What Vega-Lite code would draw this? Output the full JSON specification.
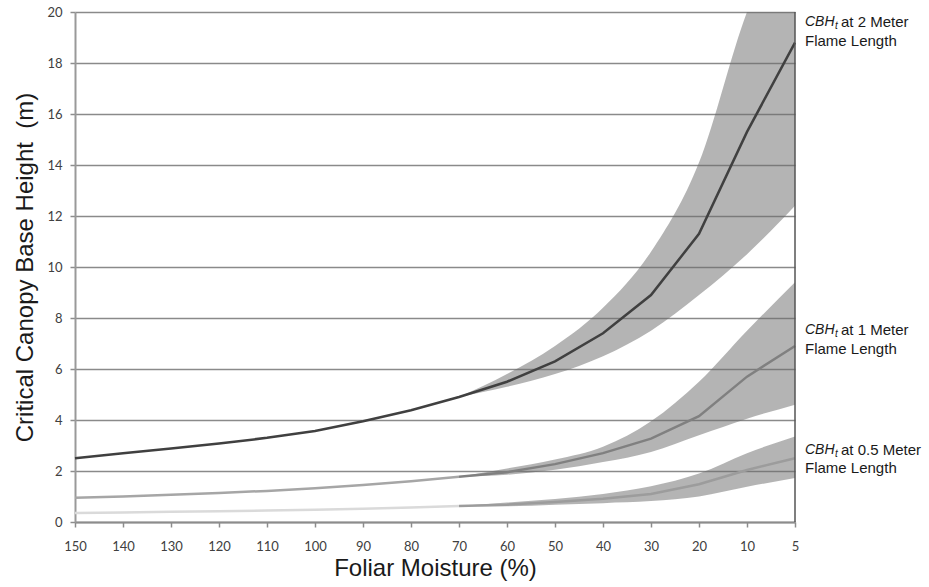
{
  "$schema": "https://vega.github.io/schema/vega-lite/v6.json",
  "autosize": "none",
  "width": 720,
  "height": 510,
  "padding": {"left": 75, "top": 12, "right": 134, "bottom": 65},
  "background": "white",
  "config": {"view": {"stroke": null}},
  "datasets": {
    "lines": [
      {"x":150,"part":"2m","y":2.5},{"x":140,"part":"2m","y":2.7},{"x":130,"part":"2m","y":2.88},{"x":120,"part":"2m","y":3.08},{"x":110,"part":"2m","y":3.3},{"x":100,"part":"2m","y":3.57},{"x":90,"part":"2m","y":3.95},{"x":80,"part":"2m","y":4.38},{"x":70,"part":"2m","y":4.9},{"x":60,"part":"2m","y":5.5},{"x":50,"part":"2m","y":6.3},{"x":40,"part":"2m","y":7.4},{"x":30,"part":"2m","y":8.9},{"x":20,"part":"2m","y":11.3},{"x":10,"part":"2m","y":15.3},{"x":5,"part":"2m","y":18.8},
      {"x":150,"part":"1m_a","y":0.95},{"x":140,"part":"1m_a","y":1.0},{"x":130,"part":"1m_a","y":1.07},{"x":120,"part":"1m_a","y":1.14},{"x":110,"part":"1m_a","y":1.22},{"x":100,"part":"1m_a","y":1.32},{"x":90,"part":"1m_a","y":1.45},{"x":80,"part":"1m_a","y":1.6},{"x":70,"part":"1m_a","y":1.77},
      {"x":70,"part":"1m_b","y":1.77},{"x":60,"part":"1m_b","y":1.95},{"x":50,"part":"1m_b","y":2.27},{"x":40,"part":"1m_b","y":2.7},{"x":30,"part":"1m_b","y":3.27},{"x":20,"part":"1m_b","y":4.15},{"x":10,"part":"1m_b","y":5.7},{"x":5,"part":"1m_b","y":6.9},
      {"x":150,"part":"05_a","y":0.35},{"x":140,"part":"05_a","y":0.37},{"x":130,"part":"05_a","y":0.4},{"x":120,"part":"05_a","y":0.42},{"x":110,"part":"05_a","y":0.45},{"x":100,"part":"05_a","y":0.48},{"x":90,"part":"05_a","y":0.52},{"x":80,"part":"05_a","y":0.57},{"x":70,"part":"05_a","y":0.63},
      {"x":70,"part":"05_b","y":0.63},{"x":60,"part":"05_b","y":0.68},{"x":50,"part":"05_b","y":0.78},{"x":40,"part":"05_b","y":0.91},{"x":30,"part":"05_b","y":1.1},{"x":20,"part":"05_b","y":1.48},{"x":10,"part":"05_b","y":2.04},{"x":5,"part":"05_b","y":2.5}
    ],
    "bands": [
      {"x":70,"series":"2m","lo":4.9,"hi":4.9},{"x":60,"series":"2m","lo":5.3,"hi":5.8},{"x":50,"series":"2m","lo":5.8,"hi":6.9},{"x":40,"series":"2m","lo":6.5,"hi":8.4},{"x":30,"series":"2m","lo":7.5,"hi":10.6},{"x":20,"series":"2m","lo":8.9,"hi":14.1},{"x":10,"series":"2m","lo":10.5,"hi":20.0},{"x":5,"series":"2m","lo":12.4,"hi":24},
      {"x":70,"series":"1m","lo":1.77,"hi":1.77},{"x":60,"series":"1m","lo":1.85,"hi":2.1},{"x":50,"series":"1m","lo":2.05,"hi":2.45},{"x":40,"series":"1m","lo":2.35,"hi":2.95},{"x":30,"series":"1m","lo":2.75,"hi":3.95},{"x":20,"series":"1m","lo":3.4,"hi":5.5},{"x":10,"series":"1m","lo":4.05,"hi":7.5},{"x":5,"series":"1m","lo":4.6,"hi":9.4},
      {"x":70,"series":"05","lo":0.63,"hi":0.63},{"x":60,"series":"05","lo":0.62,"hi":0.76},{"x":50,"series":"05","lo":0.68,"hi":0.9},{"x":40,"series":"05","lo":0.74,"hi":1.1},{"x":30,"series":"05","lo":0.82,"hi":1.4},{"x":20,"series":"05","lo":1.0,"hi":1.9},{"x":10,"series":"05","lo":1.38,"hi":2.7},{"x":5,"series":"05","lo":1.73,"hi":3.35}
    ],
    "labels": [
      {"meter":"at 2 Meter","y1":19.6,"y2":18.85},
      {"meter":"at 1 Meter","y1":7.53,"y2":6.78},
      {"meter":"at 0.5 Meter","y1":2.82,"y2":2.1}
    ]
  },
  "encoding": {
    "x": {
      "field": "x", "type": "ordinal",
      "scale": {"type": "point", "domain": [150,140,130,120,110,100,90,80,70,60,50,40,30,20,10,5], "padding": 0},
      "axis": {
        "title": "Foliar Moisture (%)", "labelAngle": 0, "tickSize": 5, "labelPadding": 13,
        "domainColor": "#8c8c8c", "domainWidth": 2, "tickColor": "#8c8c8c", "tickWidth": 1.5,
        "labelFont": "Lato", "labelFontSize": 13, "labelColor": "#404040",
        "titleFont": "Liberation Sans", "titleFontSize": 24, "titleFontWeight": "normal", "titleColor": "#1a1a1a", "titlePadding": 3,
        "grid": false
      }
    }
  },
  "layer": [
    {
      "data": {"name": "bands"},
      "mark": {"type": "area", "interpolate": "monotone", "color": "#696969", "opacity": 0.5, "clip": true},
      "encoding": {
        "y": {"field": "lo", "type": "quantitative", "scale": {"domain": [0, 20], "nice": false},
          "axis": {
            "title": "Critical Canopy Base Height\u00a0 (m)", "values": [0,2,4,6,8,10,12,14,16,18,20],
            "tickSize": 5, "labelPadding": 8,
            "domainColor": "#999999", "domainWidth": 2, "tickColor": "#8c8c8c", "tickWidth": 1.5,
            "grid": true, "gridColor": "#8a8a8a", "gridWidth": 1.5,
            "labelFont": "Lato", "labelFontSize": 13, "labelColor": "#404040",
            "titleFont": "Liberation Sans", "titleFontSize": 24, "titleFontWeight": "normal", "titleColor": "#1a1a1a", "titlePadding": 9
          }},
        "y2": {"field": "hi"},
        "detail": {"field": "series"}
      }
    },
    {
      "data": {"name": "lines"},
      "mark": {"type": "line", "strokeWidth": 2.5},
      "encoding": {
        "y": {"field": "y", "type": "quantitative"},
        "color": {"field": "part", "type": "nominal", "legend": null,
          "scale": {"domain": ["2m","1m_a","1m_b","05_a","05_b"], "range": ["#404040","#a6a6a6","#808080","#dadada","#9c9c9c"]}}
      }
    },
    {
      "data": {"values": [{"x": 5}]},
      "mark": {"type": "rule", "color": "#555555", "strokeWidth": 1.5},
      "encoding": {}
    },
    {
      "data": {"name": "labels"},
      "mark": {"type": "text", "align": "left", "baseline": "middle", "dx": 10, "font": "Liberation Sans", "fontSize": 14, "fontStyle": "italic", "color": "#1a1a1a", "text": "CBH"},
      "encoding": {"x": {"datum": 5}, "y": {"field": "y1", "type": "quantitative"}}
    },
    {
      "data": {"name": "labels"},
      "mark": {"type": "text", "align": "left", "baseline": "middle", "dx": 40, "dy": 4, "font": "Liberation Sans", "fontSize": 10, "fontStyle": "italic", "color": "#1a1a1a", "text": "t"},
      "encoding": {"x": {"datum": 5}, "y": {"field": "y1", "type": "quantitative"}}
    },
    {
      "data": {"name": "labels"},
      "mark": {"type": "text", "align": "left", "baseline": "middle", "dx": 46, "font": "Liberation Sans", "fontSize": 15, "color": "#1a1a1a"},
      "encoding": {"x": {"datum": 5}, "y": {"field": "y1", "type": "quantitative"}, "text": {"field": "meter"}}
    },
    {
      "data": {"name": "labels"},
      "mark": {"type": "text", "align": "left", "baseline": "middle", "dx": 10, "font": "Liberation Sans", "fontSize": 15, "color": "#1a1a1a", "text": "Flame Length"},
      "encoding": {"x": {"datum": 5}, "y": {"field": "y2", "type": "quantitative"}}
    }
  ]
}
